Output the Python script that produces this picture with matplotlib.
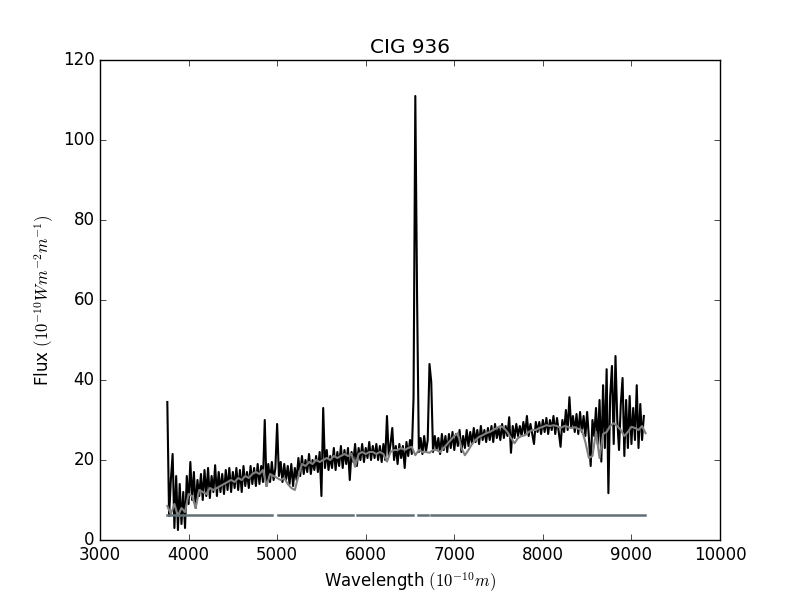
import numpy as np
import matplotlib
matplotlib.use("Agg")
import matplotlib.pyplot as plt

plt.style.use("classic")

# observed spectrum, sampled every 20 A from 3760 A
obs_start = 3760
obs_step = 20
obs_flux = [
    34.5, 6, 15, 21.5, 3, 16, 2.5, 14, 4, 12,
    3, 16, 9, 19.5, 10, 17, 8, 15, 11, 16.5,
    10, 17.5, 11, 18, 10.5, 16, 12, 18.7, 11, 17,
    12, 16.5, 11.5, 17.5, 12.5, 18, 12, 17, 13, 18,
    12.5, 17.5, 12, 18.5, 13.5, 17, 13, 18.5, 14, 18,
    13.5, 19, 14, 18.5, 14.5, 30, 13.5, 19, 14.5, 19.5,
    15, 18, 29, 16, 19.5, 14.5, 19, 15, 18.5, 14,
    19, 13.5, 18, 15, 20.5, 16, 21, 16.5, 20, 17,
    21.5, 16.5, 20, 17.5, 21, 17, 22, 11, 33, 18,
    22.5, 17.5, 21, 18, 23, 17.5, 22, 18.5, 23.5, 18,
    22.5, 19, 23, 15, 22, 19.5, 24, 18.5, 23, 20,
    24, 19.5, 23, 20.5, 24.5, 20, 23.5, 20.5, 24, 20,
    23.5, 19.5, 24, 20, 31, 21, 24, 28, 20, 23.5,
    19, 24, 20.5, 23.5, 18, 24.5, 21, 25, 21.5, 35.5,
    111, 60.5, 22, 25.5, 21.5, 26, 22, 25, 44, 39.5,
    22, 26, 22.5, 25.5, 21.5, 26.5, 22.5, 26, 22, 26.5,
    23, 27, 22.5, 26.5, 23.5, 27.5, 22, 26, 23, 27.5,
    23.5, 27, 24, 28, 24.5, 27.5, 24, 28.5, 25, 27.5,
    24.5, 28, 25, 28.5, 24.5, 29, 25.5, 28, 25, 29,
    25.5, 28.5, 26, 30.7, 21.8, 28.5, 25.5, 29, 26, 28.5,
    26, 29.5, 26.5, 31, 26, 29, 26.5, 24, 29.5, 27,
    29.5, 26.5, 30, 27, 30.5, 26.5, 30, 27.5, 31, 26.5,
    30.5, 27, 23.3, 30, 27, 32.5, 27.5, 35.7, 28, 31,
    27, 31.5, 26.5, 32, 27, 31, 26, 32, 25.5, 18.5,
    30, 26, 33, 24, 35, 19.6, 38.7, 23, 42.7, 11.7,
    36, 43.5, 24, 46, 30, 22.5, 34, 40.5, 21, 35,
    23, 36, 24, 33, 25, 38.7, 23, 34, 25, 31,
]

# model spectrum, sampled every 40 A from 3760 A
model_start = 3760
model_step = 40
model_flux = [
    8.5, 6.5, 9, 6, 8, 7, 11.5, 11, 8, 12.5,
    12, 11.5, 13, 12.5, 13, 13.5, 14, 14.5, 15, 14.5,
    15.5, 15, 16, 15.5, 16.5, 17, 16.5, 17.5, 13.5, 16.5,
    16, 15.5, 15, 15.5, 14, 13, 12.5, 16, 19, 18.5,
    19.5, 19, 20, 19.5, 20, 20.5, 20, 21, 20.5, 21,
    21.5, 21, 21.5, 18.3, 21.5, 22, 21.5, 22, 22, 21.5,
    22, 21.5, 19.6, 22, 22.5, 22.5, 23, 22.5, 23, 23.3,
    21.2, 22.5, 22, 22, 21.8, 22.5, 22.5, 22, 23, 24,
    25, 26, 26.7, 23, 21.2, 22.5, 24, 25, 25.8, 26.2,
    26.7, 27, 27.5, 28, 28.5, 28, 27, 25.5, 24.2, 25.5,
    26, 26.2, 27, 27.5, 27.5, 28, 28.3, 28.7, 28.5, 28.7,
    28.5, 28, 28.5, 28.3, 28, 28.2, 27.8, 27.5, 24.5, 20.5,
    21, 27, 20.5, 26.5, 27, 28.5, 29.2, 28.5, 27.5, 26,
    27, 28.3, 28, 27.5, 28.5, 26.7,
]

# masked-pixel indicator: level and good wavelength ranges
mask_level = 6.2
mask_from = [3760, 4863, 5010, 5902, 6308, 6588, 6737]
mask_to = [4844, 4940, 5860, 6283, 6537, 6706, 9153]

obs_wave = obs_start + obs_step * np.arange(len(obs_flux))
model_wave = model_start + model_step * np.arange(len(model_flux))

fig = plt.figure(figsize=(8, 6), dpi=100, facecolor="white")
ax = fig.add_subplot(111)

ax.plot(obs_wave, obs_flux, color="black", lw=1.5)
ax.plot(model_wave, model_flux, color="0.5", lw=1.5)
for a, b in zip(mask_from, mask_to):
    ax.plot([a, b], [mask_level, mask_level], color="#627075", lw=1.8)

ax.set_xlim(3000, 10000)
ax.set_ylim(0, 120)
ax.set_title("CIG 936")
ax.set_xlabel(r"Wavelength $(10^{-10}m)$")
ax.set_ylabel(r"Flux $(10^{-10}Wm^{-2}m^{-1})$")

fig.savefig("out.png", dpi=100, facecolor="white")
